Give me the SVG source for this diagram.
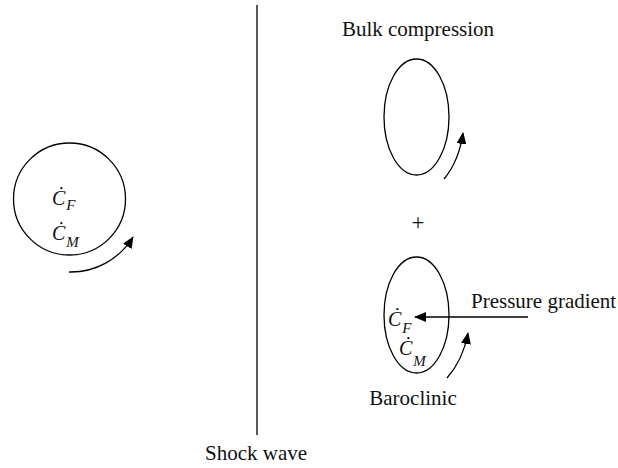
<svg xmlns="http://www.w3.org/2000/svg" width="618" height="468" viewBox="0 0 618 468">
<style>
.s{fill:none;stroke:#000;stroke-width:1.3}
.t{font-family:"Liberation Serif","Times New Roman","DejaVu Serif",serif;font-size:21px;fill:#111}
.v{font-family:"Liberation Serif","Times New Roman","DejaVu Serif",serif;font-style:italic;font-size:20px;fill:#111}
.sub{font-size:15px}
</style>
<defs>
<marker id="ah" markerWidth="12" markerHeight="10" refX="11" refY="5" orient="auto" markerUnits="userSpaceOnUse">
<path d="M0,0 L12,5 L0,10 Z" fill="#000"/>
</marker>
</defs>
<rect width="618" height="468" fill="#fff"/>
<g id="shock">
<line class="s" x1="257" y1="5" x2="257" y2="435"/>
<text class="t" x="256" y="460" text-anchor="middle">Shock wave</text>
</g>
<g id="left-vortex">
<circle class="s" cx="69.5" cy="199" r="56"/>
<text class="v" x="52" y="205">Ċ<tspan class="sub" dx="1" dy="5">F</tspan></text>
<text class="v" x="52" y="240">Ċ<tspan class="sub" dx="1" dy="7">M</tspan></text>
</g>
<g id="bulk">
<text class="t" x="418" y="36" text-anchor="middle">Bulk compression</text>
<ellipse class="s" cx="416.5" cy="117" rx="32.5" ry="58"/>
</g>
<g id="plus">
<text class="t" x="418" y="230" text-anchor="middle" style="font-size:23px">+</text>
</g>
<g id="baroclinic">
<ellipse class="s" cx="416.5" cy="315" rx="32.5" ry="58"/>
<text class="v" x="388" y="326">Ċ<tspan class="sub" dx="1" dy="7">F</tspan></text>
<text class="v" x="399" y="355">Ċ<tspan class="sub" dx="1" dy="11">M</tspan></text>
<text class="t" x="413" y="405" text-anchor="middle">Baroclinic</text>
</g>
<g id="pressure">
<text class="t" x="471" y="308">Pressure gradient</text>
</g>
<g id="connectors">
<path class="s" d="M69,272 A73,73 0 0 0 133,237" marker-end="url(#ah)"/>
<path class="s" d="M444,179 Q459,161 463,133" marker-end="url(#ah)"/>
<path class="s" d="M447,378 Q463,360 468,333" marker-end="url(#ah)"/>
<line class="s" x1="528" y1="317" x2="415" y2="317" marker-end="url(#ah)"/>
</g>
</svg>
